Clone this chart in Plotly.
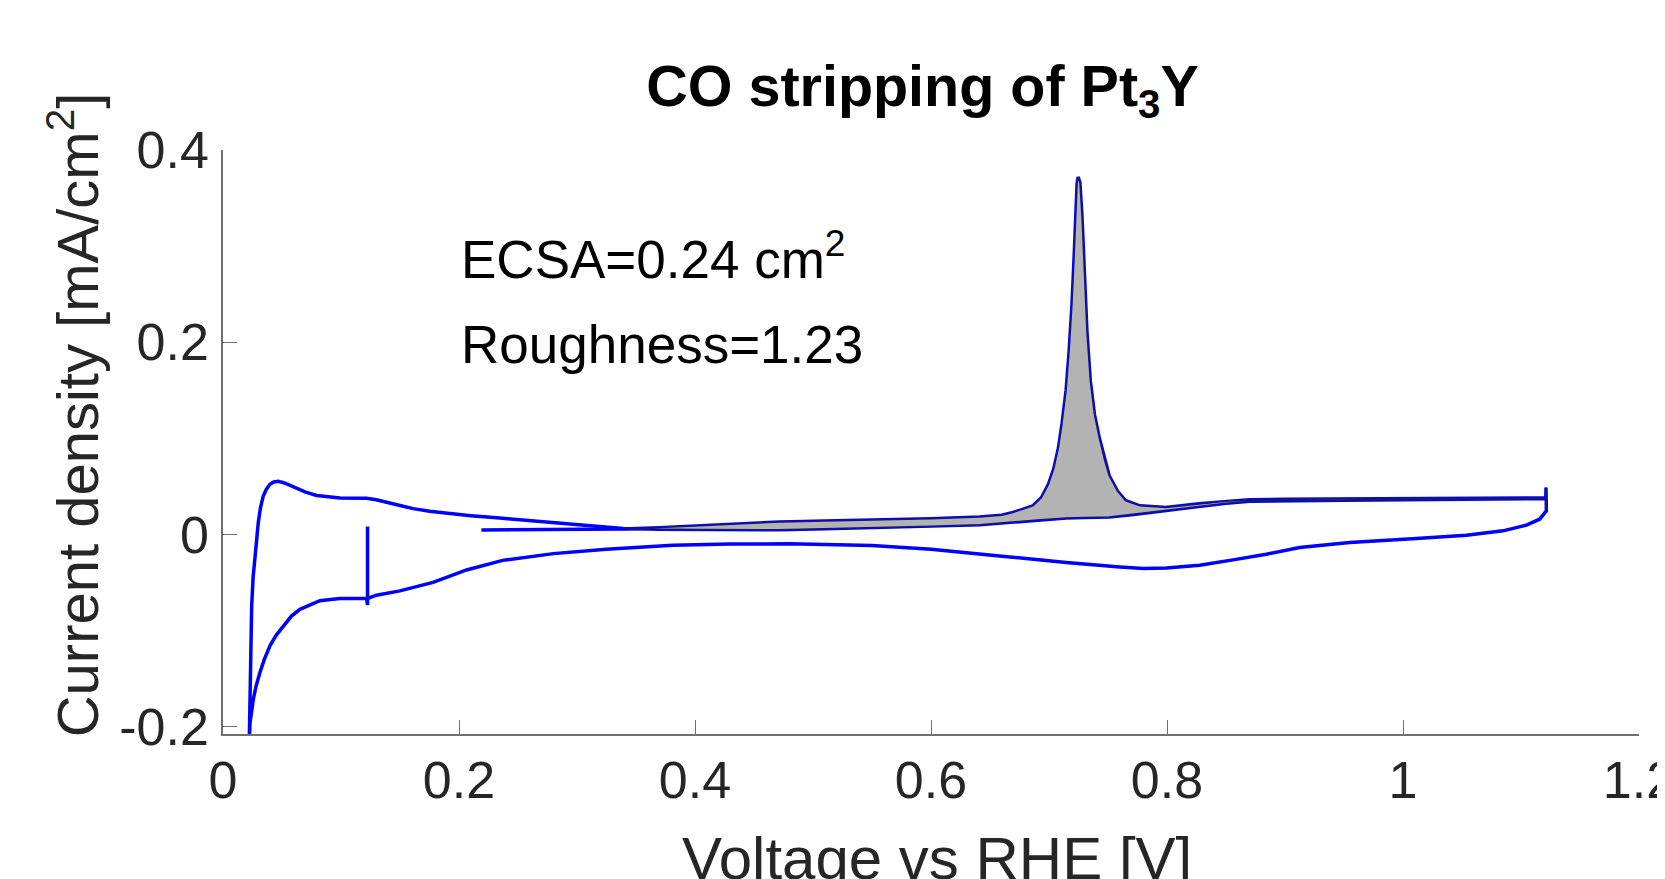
import plotly.graph_objects as go
import numpy as np

# ---------------- data ----------------
# Baseline CV (blank scan), in recording order: start transient, cathodic, anodic, vertex, cathodic
base_v = [0.1225, 0.1225, 0.1217, 0.1100, 0.0991, 0.0821, 0.0652, 0.0580, 0.0511, 0.0450,
          0.0398, 0.0350, 0.0313, 0.0280, 0.0257, 0.0240, 0.0229, 0.0222,
          0.0226, 0.0229, 0.0236, 0.0243, 0.0255, 0.0271, 0.0285, 0.0299, 0.0318, 0.0341,
          0.0368, 0.0398, 0.0430, 0.0469, 0.0520, 0.0596, 0.0700, 0.0794, 0.0991, 0.1217,
          0.1300, 0.1386, 0.1500, 0.1612, 0.1750, 0.1894, 0.2100, 0.2346, 0.2650, 0.2966,
          0.3200, 0.3390, 0.3700, 0.4000, 0.4720, 0.5100, 0.5566, 0.6000, 0.6413, 0.6700,
          0.6900, 0.7145, 0.7300, 0.7510, 0.7700, 0.7850, 0.8050, 0.8270, 0.8500, 0.8700,
          0.9000, 0.9500, 1.0000, 1.0500, 1.1000, 1.1210, 1.1212, 1.1214, 1.1215,
          1.1158, 1.1046, 1.0847, 1.0537, 1.0113, 0.9548, 0.9124, 0.8842, 0.8559, 0.8277,
          0.7994, 0.7800, 0.7600, 0.7145, 0.6580, 0.6000, 0.5500, 0.4800, 0.4300, 0.3810,
          0.3250, 0.2800, 0.2370, 0.2064, 0.1780, 0.1499, 0.1300, 0.1225]
base_j = [0.0082, -0.0734, -0.0667, -0.0667, -0.0667, -0.0690, -0.0780, -0.0850, -0.0952, -0.1050,
          -0.1160, -0.1300, -0.1437, -0.1580, -0.1715, -0.1850, -0.1960, -0.2200,
          -0.1800, -0.1440, -0.1100, -0.0744, -0.0450, -0.0224, -0.0030, 0.0124, 0.0280, 0.0400,
          0.0470, 0.0522, 0.0545, 0.0552, 0.0535, 0.0495, 0.0440, 0.0405, 0.0378, 0.0375,
          0.0360, 0.0335, 0.0300, 0.0268, 0.0240, 0.0220, 0.0195, 0.0170, 0.0140, 0.0106,
          0.0080, 0.0062, 0.0053, 0.0050, 0.0048, 0.0058, 0.0072, 0.0084, 0.0100, 0.0128,
          0.0150, 0.0170, 0.0175, 0.0180, 0.0205, 0.0228, 0.0262, 0.0290, 0.0325, 0.0345,
          0.0352, 0.0356, 0.0360, 0.0365, 0.0370, 0.0374, 0.0488, 0.0280, 0.0245,
          0.0158, 0.0096, 0.0037, -0.0008, -0.0043, -0.0085, -0.0137, -0.0206, -0.0265, -0.0320,
          -0.0350, -0.0356, -0.0340, -0.0293, -0.0224, -0.0155, -0.0115, -0.0098, -0.0100, -0.0112,
          -0.0154, -0.0200, -0.0270, -0.0370, -0.0500, -0.0588, -0.0633, -0.0667]

# CO-stripping anodic scan
co_v = [0.2190, 0.2500, 0.3000, 0.3390, 0.3700, 0.4000, 0.4400, 0.4720, 0.5100, 0.5566,
        0.6000, 0.6413, 0.6600, 0.6695, 0.6780, 0.6864, 0.6935, 0.6995, 0.7040, 0.7080,
        0.7110, 0.7145, 0.7170, 0.7195, 0.7215, 0.7228, 0.7238, 0.7247, 0.7262, 0.7280,
        0.7300, 0.7322, 0.7350, 0.7385, 0.7427, 0.7470, 0.7510, 0.7580, 0.7650, 0.7770,
        0.7990, 0.8270, 0.8500, 0.8700, 0.9000, 0.9500, 1.0000, 1.0500, 1.1000, 1.1210]
co_j = [0.0047, 0.0047, 0.0050, 0.0056, 0.0070, 0.0088, 0.0112, 0.0130, 0.0140, 0.0150,
        0.0162, 0.0182, 0.0200, 0.0228, 0.0260, 0.0297, 0.0380, 0.0520, 0.0680, 0.0900,
        0.1150, 0.1500, 0.1900, 0.2400, 0.2950, 0.3400, 0.3650, 0.3720, 0.3660, 0.3300,
        0.2700, 0.2100, 0.1600, 0.1250, 0.1000, 0.0780, 0.0610, 0.0450, 0.0350, 0.0297,
        0.0280, 0.0320, 0.0345, 0.0360, 0.0365, 0.0370, 0.0372, 0.0375, 0.0378, 0.0380]

x_ticks = [0, 0.2, 0.4, 0.6, 0.8, 1.0, 1.2]
x_ticktext = ["0", "0.2", "0.4", "0.6", "0.8", "1", "1.2"]
y_ticks = [-0.2, 0, 0.2, 0.4]
y_ticktext = ["-0.2", "0", "0.2", "0.4"]

title_text = "CO stripping of Pt<sub>3</sub>Y"
x_title = "Voltage vs RHE [V]"
y_title = "Current density [mA/cm<sup>2</sup>]"
ecsa_text = "ECSA=0.24 cm<sup>2</sup>"
rough_text = "Roughness=1.23"
fill_start = 0.339   # where the two anodic scans cross

# ---------------- build shaded CO-oxidation region ----------------
bv = np.array(base_v); bj = np.array(base_j)
i_lo = int(np.argmin(bv)); i_hi = int(np.argmax(bv))
an_v = bv[i_lo:i_hi + 1]; an_j = bj[i_lo:i_hi + 1]
m_b = an_v >= fill_start
cv = np.array(co_v); cj = np.array(co_j)
m_c = cv >= fill_start
poly_x = list(cv[m_c]) + list(an_v[m_b][::-1])
poly_y = list(cj[m_c]) + list(an_j[m_b][::-1])

FONT = "Arial, Liberation Sans, Helvetica, sans-serif"
BLUE = "#0000FF"

fig = go.Figure()
fig.add_trace(go.Scatter(x=base_v, y=base_j, mode="lines",
                         line=dict(color=BLUE, width=3.5), showlegend=False, hoverinfo="skip"))
fig.add_trace(go.Scatter(x=co_v, y=co_j, mode="lines",
                         line=dict(color=BLUE, width=3.5), showlegend=False, hoverinfo="skip"))
fig.add_trace(go.Scatter(x=poly_x, y=poly_y, mode="lines", fill="toself",
                         fillcolor="#B3B3B3", line=dict(color="#16167a", width=1.5),
                         showlegend=False, hoverinfo="skip"))

axis_common = dict(showline=True, linecolor="#707070", linewidth=1.5,
                   ticks="inside", ticklen=14, tickwidth=1.2, tickcolor="#707070",
                   showgrid=False, zeroline=False, mirror=False, automargin=False,
                   ticklabeloverflow="allow",
                   tickfont=dict(family=FONT, size=52, color="#262626"))

# page body keeps an 8px default margin, so the figure is 8px smaller than the window
W, H = 1657, 871
fig.update_layout(
    width=W, height=H,
    paper_bgcolor="white", plot_bgcolor="white",
    margin=dict(l=215, r=26, t=142, b=145, autoexpand=False),
    title=dict(text=title_text, x=0.494, xref="paper", xanchor="center",
               y=1 - 78 / H, yref="container", yanchor="middle",
               font=dict(family=FONT, size=57.5, color="black", weight="bold")),
    xaxis=dict(range=[0, 1.2], tickvals=x_ticks, ticktext=x_ticktext,
               ticklabelstandoff=0, **axis_common),
    yaxis=dict(range=[-0.2077, 0.4], tickvals=y_ticks, ticktext=y_ticktext,
               ticklabelstandoff=2, **axis_common),
    annotations=[
        dict(text=x_title, xref="paper", yref="paper", x=0.504, y=-0.152,
             xanchor="center", yanchor="top", showarrow=False,
             font=dict(family=FONT, size=60, color="#262626")),
        dict(text=y_title, xref="paper", yref="paper", x=-0.1056, y=0.5465,
             xanchor="center", yanchor="middle", textangle=-90, showarrow=False,
             font=dict(family=FONT, size=58, color="#262626")),
        dict(text=ecsa_text, xref="x", yref="y", x=0.2, y=0.29,
             xanchor="left", yanchor="middle", showarrow=False,
             font=dict(family=FONT, size=53, color="black")),
        dict(text=rough_text, xref="x", yref="y", x=0.2, y=0.198,
             xanchor="left", yanchor="middle", showarrow=False,
             font=dict(family=FONT, size=53, color="black")),
    ],
)

fig.write_html("out.html")
